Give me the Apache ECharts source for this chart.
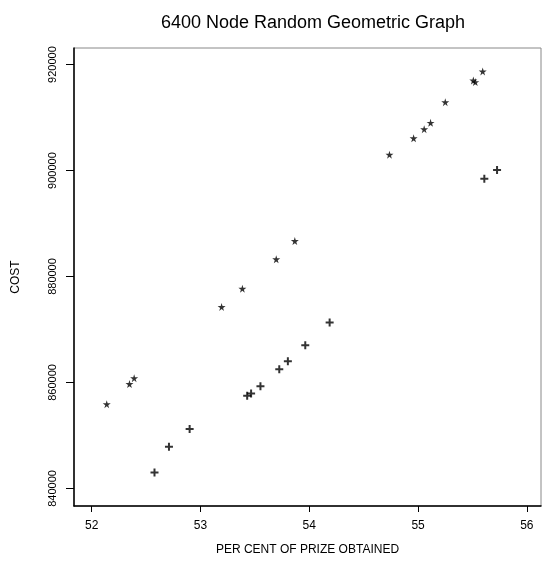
<!DOCTYPE html>
<html>
<head>
<meta charset="utf-8">
<script src="https://cdn.jsdelivr.net/npm/echarts@6/dist/echarts.min.js"></script>
<style>
  html, body { margin: 0; padding: 0; background: #fff; }
  #chart { width: 543px; height: 561px; }
</style>
</head>
<body>
<div id="chart"></div>
<script>
// points drawn with "*"
const starX = [55.594, 55.508, 55.526, 55.250, 55.115, 55.056, 54.959, 54.737, 53.867, 53.696, 53.385, 53.194, 52.390, 52.347, 52.138];
const starY = [918700, 917000, 916700, 912900, 909000, 907800, 906100, 903000, 886700, 883250, 877700, 874250, 860800, 859700, 855900];
// points drawn with "+"
const plusX = [55.726, 55.609, 54.187, 53.963, 53.803, 53.724, 53.551, 53.465, 53.429, 52.900, 52.710, 52.577];
const plusY = [900100, 898450, 871300, 867000, 864000, 862500, 859300, 857900, 857500, 851200, 847850, 843000];

const xTicks = [52, 53, 54, 55, 56];
const yTicks = [840000, 860000, 880000, 900000, 920000];

const font = 'Liberation Sans, Arial, Helvetica, sans-serif';
const starPath = 'path://M50,0 L61,35 L98,35 L68,57 L79,91 L50,70 L21,91 L32,57 L2,35 L39,35 Z';
const plusPath = 'path://M3,0H5V3H8V5H5V8H3V5H0V3H3Z';

const chart = echarts.init(document.getElementById('chart'));
chart.setOption({
  animation: false,
  title: {
    text: '6400 Node Random Geometric Graph',
    left: 308, top: 9, textAlign: 'center',
    textStyle: { fontFamily: font, fontSize: 18, fontWeight: 'normal', color: '#000' }
  },
  grid: {
    left: 74, top: 48, right: 2, bottom: 52,
    show: true, borderColor: '#888', borderWidth: 1
  },
  xAxis: {
    type: 'value', min: 51.837, max: 56.13,
    name: 'PER CENT OF PRIZE OBTAINED', nameLocation: 'middle', nameGap: 38,
    nameTextStyle: { fontFamily: font, fontSize: 12, color: '#000' },
    axisLine: { show: true, lineStyle: { color: '#000', width: 1.5 } },
    axisTick: { show: true, length: 6, customValues: xTicks, lineStyle: { color: '#000' } },
    axisLabel: { customValues: xTicks, margin: 14, fontFamily: font, fontSize: 12, color: '#000' },
    splitLine: { show: false }
  },
  yAxis: {
    type: 'value', min: 836680, max: 923130,
    name: 'COST', nameLocation: 'middle', nameGap: 52, nameRotate: 90,
    nameTextStyle: { fontFamily: font, fontSize: 12, color: '#000' },
    axisLine: { show: true, lineStyle: { color: '#000', width: 1.5 } },
    axisTick: { show: true, length: 8, customValues: yTicks, lineStyle: { color: '#000' } },
    axisLabel: {
      customValues: yTicks, rotate: 90, margin: 16, fontFamily: font, fontSize: 11, color: '#000',
      formatter: v => String(v)
    },
    splitLine: { show: false }
  },
  series: [
    {
      type: 'scatter', symbol: starPath, symbolSize: 8,
      itemStyle: { color: '#000' },
      data: starX.map((x, i) => [x, starY[i]])
    },
    {
      type: 'scatter', symbol: plusPath, symbolSize: 8,
      itemStyle: { color: '#000' },
      data: plusX.map((x, i) => [x, plusY[i]])
    }
  ]
});
</script>
</body>
</html>
